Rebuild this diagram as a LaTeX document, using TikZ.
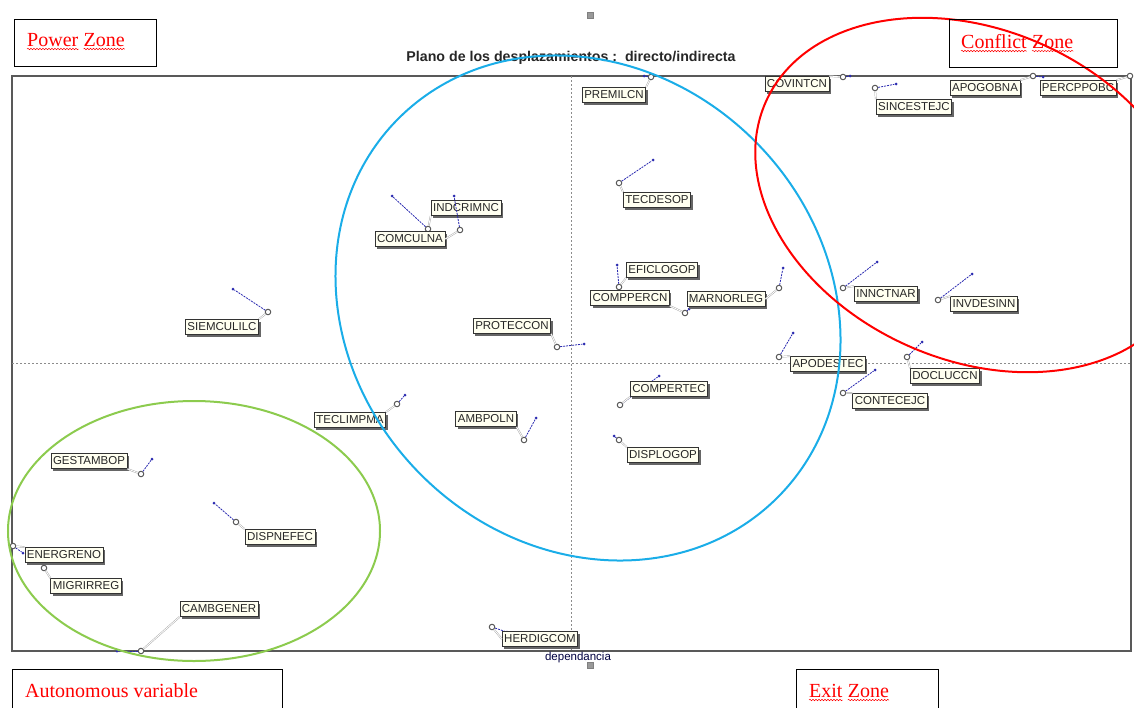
\documentclass[tikz,border=0pt]{standalone}
\usepackage{fontspec}
\setmainfont{Liberation Serif}
\setsansfont{Liberation Sans}
\usetikzlibrary{shadows,decorations.pathmorphing}
\definecolor{cream}{HTML}{FFFFF0}
\definecolor{blueell}{HTML}{1AADE8}
\definecolor{greenell}{HTML}{8CCB4E}
\definecolor{dotblue}{HTML}{2A2AB0}
\tikzset{
 var/.style={draw=black!80, line width=0.8pt, fill=cream, font=\sffamily\fontsize{11.5}{11.5}\selectfont, text=black!85, inner xsep=2pt, inner ysep=1.5pt, minimum height=15pt, drop shadow={shadow xshift=2pt, shadow yshift=-2pt, fill=black!60, opacity=1}},
 mk/.style={circle, draw=black!65, line width=1pt, fill=white, inner sep=0pt, minimum size=5.5pt},
 pt/.style={circle, fill=dotblue, inner sep=0pt, minimum size=3pt},
 disp/.style={draw=dotblue, line width=0.8pt, dash pattern=on 2pt off 1pt},
 lead/.style={draw=black!35, line width=0.45pt, double=white, double distance=0.8pt},
 zonebox/.style={draw=black, line width=0.9pt},
 zt/.style={text=red, font=\fontsize{20}{20}\selectfont, inner sep=0pt, anchor=base west},
 wavy/.style={draw=red, line width=0.5pt, decorate, decoration={snake, amplitude=0.7pt, segment length=3pt}},
 handle/.style={draw=black!50, fill=black!40, minimum size=6pt, inner sep=0pt},
}
\newcommand\varplot[6]{%
 \node[pt] (#1d) at (#5) {};
 \node[mk] (#1c) at (#4) {};
 \draw[disp] (#1c) -- (#1d);
 \node[var] (#1) at (#3) {#2};
 \draw[lead] (#1c) -- (#1.#6);
}
\newcommand\varnodot[5]{%
 \node[mk] (#1c) at (#4) {};
 \node[var] (#1) at (#3) {#2};
 \draw[lead] (#1c) -- (#1.#5);
}
\begin{document}
\begin{tikzpicture}[x=1pt,y=-1pt]
\useasboundingbox (0,0) rectangle (1134,707);
% plot frame and axes
\coordinate (fnw) at (12,76);
\coordinate (fse) at (1131,651);
\draw[black!65, line width=1.2pt] (fnw) rectangle (fse);
\coordinate (hl) at (12,363); \coordinate (hr) at (1131,363);
\coordinate (vt) at (571,76); \coordinate (vb) at (571,651);
\draw[black!45, line width=0.6pt, dash pattern=on 2pt off 2pt] (hl) -- (hr);
\draw[black!45, line width=0.6pt, dash pattern=on 2pt off 2pt] (vt) -- (vb);
\node[font=\sffamily\bfseries\fontsize{14.2}{15}\selectfont, text=black!85] (title) at (571,58) {Plano de los desplazamientos :~~directo/indirecta};
\node[font=\sffamily\fontsize{11.5}{12}\selectfont, text=black!75!blue] (xlab) at (578,658) {dependancia};
\node[handle] (h1) at (590,15) {};
\node[handle] (h2) at (590,665) {};
% variables
\varplot{premilcn}{PREMILCN}{614,95}{651,77}{644,76}{north east}
\varplot{covintcn}{COVINTCN}{797,84}{843,77}{850,76}{north east}
\varplot{sincestejc}{SINCESTEJC}{914,107}{875,88}{896,84}{north west}
\varplot{apogobna}{APOGOBNA}{985,88}{1033,76}{1043,77}{north east}
\varnodot{percppobc}{PERCPPOBC}{1078,88}{1130,76}{north east}
\varplot{tecdesop}{TECDESOP}{657,200}{619,183}{653,160}{north west}
\varplot{indcrimnc}{INDCRIMNC}{466,208}{428,229}{392,196}{south west}
\varplot{comculna}{COMCULNA}{410,239}{460,230}{454,196}{east}
\varplot{siemculilc}{SIEMCULILC}{222,327}{268,312}{233,289}{north east}
\varplot{proteccon}{PROTECCON}{512,326}{557,347}{584,344}{south east}
\varplot{eficlogop}{EFICLOGOP}{662,270}{619,287}{617,265}{south west}
\varplot{comppercn}{COMPPERCN}{630,298}{685,313}{689,309}{south east}
\varplot{marnorleg}{MARNORLEG}{726,299}{779,288}{783,268}{east}
\varplot{innctnar}{INNCTNAR}{886,294}{843,288}{877,262}{north west}
\varplot{invdesinn}{INVDESINN}{984,304}{938,300}{972,274}{north west}
\varplot{apodestec}{APODESTEC}{828,364}{779,357}{793,333}{north west}
\varplot{docluccn}{DOCLUCCN}{945,376}{907,357}{922,342}{north west}
\varplot{contecejc}{CONTECEJC}{890,401}{843,393}{875,370}{north west}
\varplot{compertec}{COMPERTEC}{669,389}{620,405}{659,376}{south west}
\varplot{displogop}{DISPLOGOP}{663,455}{619,440}{614,436}{north west}
\varplot{ambpoln}{AMBPOLN}{486,419}{524,440}{536,418}{south east}
\varplot{teclimpma}{TECLIMPMA}{350,420}{397,404}{405,395}{north east}
\varplot{gestambop}{GESTAMBOP}{89,461}{141,474}{152,459}{south east}
\varplot{dispnefec}{DISPNEFEC}{280,537}{236,522}{214,503}{north west}
\varplot{energreno}{ENERGRENO}{64,555}{13,546}{23,553}{north west}
\varnodot{migrirreg}{MIGRIRREG}{86,586}{44,568}{north west}
\varplot{cambgener}{CAMBGENER}{219,609}{141,651}{117,651}{south west}
\varplot{herdigcom}{HERDIGCOM}{540,639}{492,627}{507,632}{west}
% zone ellipses
\coordinate (bc) at (588,308);
\coordinate (rc) at (975,195);
\coordinate (gc) at (194,531);
\draw[blueell, line width=2pt, rotate around={-45:(bc)}] (bc) ellipse (268 and 236);
\draw[red, line width=2pt, rotate around={-24:(rc)}] (rc) ellipse (229 and 165);
\draw[greenell, line width=2pt] (gc) ellipse (186 and 130);
% zone boxes
\draw[zonebox] (14,19) rectangle (156,66);
\node[zt] (pz1) at (27,46) {Power};
\node[zt] (pz2) at ([xshift=5pt]pz1.base east) {Zone};
\draw[wavy] ([yshift=-3pt]pz1.base west) -- ([yshift=-3pt]pz1.base east);
\draw[wavy] ([yshift=-3pt]pz2.base west) -- ([yshift=-3pt]pz2.base east);
\draw[zonebox] (949,19) rectangle (1117,67);
\node[zt] (cz1) at (961,48) {Conflict};
\node[zt] (cz2) at ([xshift=5pt]cz1.base east) {Zone};
\draw[wavy] ([yshift=-3pt]cz1.base west) -- ([yshift=-3pt]cz1.base east);
\draw[wavy] ([yshift=-3pt]cz2.base west) -- ([yshift=-3pt]cz2.base east);
\draw[zonebox] (12,720) -- (12,669) -- (282,669) -- (282,720);
\node[zt] (av) at (25,697) {Autonomous variable};
\draw[zonebox] (796,720) -- (796,669) -- (938,669) -- (938,720);
\node[zt] (ez1) at (809,697) {Exit};
\node[zt] (ez2) at ([xshift=5pt]ez1.base east) {Zone};
\draw[wavy] ([yshift=-3pt]ez1.base west) -- ([yshift=-3pt]ez1.base east);
\draw[wavy] ([yshift=-3pt]ez2.base west) -- ([yshift=-3pt]ez2.base east);
\end{tikzpicture}
\end{document}
